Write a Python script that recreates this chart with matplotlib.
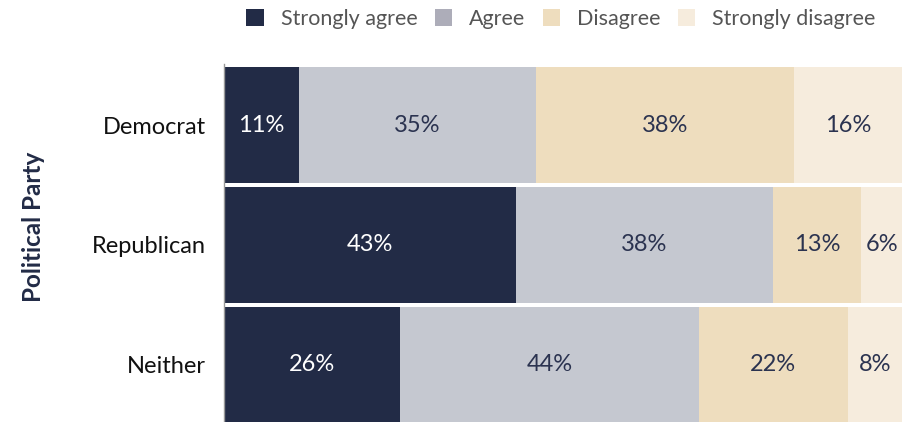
import matplotlib
matplotlib.use("Agg")
import matplotlib.pyplot as plt
from matplotlib.patches import Patch

categories = ["Democrat", "Republican", "Neither"]
series_names = ["Strongly agree", "Agree", "Disagree", "Strongly disagree"]
strongly_agree = [11, 43, 26]
agree = [35, 38, 44]
disagree = [38, 13, 22]
strongly_disagree = [16, 6, 8]
values = [strongly_agree, agree, disagree, strongly_disagree]

bar_colors = ["#222B46", "#C5C8D0", "#EEDDBE", "#F6ECDD"]
legend_colors = ["#222B46", "#ADADB9", "#EEDDBE", "#F6ECDD"]
text_colors = ["white", "#2B3350", "#2B3350", "#2B3350"]

plt.rcParams['font.family'] = ['Lato', 'DejaVu Sans']

fig = plt.figure(figsize=(9.17, 4.22), dpi=100)
ax = fig.add_axes([224/917, 0.0, (902-224)/917, 1 - 64/422])

ypos = [2, 1, 0]
left = [0, 0, 0]
for vals, bc, tc in zip(values, bar_colors, text_colors):
    ax.barh(ypos, vals, left=left, height=0.965, color=bc, edgecolor='none')
    for y, l, v in zip(ypos, left, vals):
        ax.text(l + v / 2, y, f"{v}%", ha='center', va='center', color=tc, fontsize=17)
    left = [l + v for l, v in zip(left, vals)]

ax.set_xlim(0, 100)
ax.set_ylim(-0.48, 2.51)
ax.set_yticks(ypos)
ax.set_yticklabels(categories, fontsize=17, color='#111111')
ax.tick_params(axis='y', length=0, pad=13)
ax.set_xticks([])
for s in ['top', 'right', 'bottom']:
    ax.spines[s].set_visible(False)
ax.spines['left'].set_color('#999999')
ax.spines['left'].set_linewidth(1.0)

ax.set_ylabel("Political Party", fontsize=17.5, fontweight='bold', color='#222B46')
ax.yaxis.set_label_coords((45 - 224) / 678, 0.545)

handles = [Patch(facecolor=c, edgecolor='none') for c in legend_colors]
fig.legend(handles, series_names, loc='center', bbox_to_anchor=(561/917, 1 - 19/422), ncol=4,
           frameon=False, fontsize=15.5, handlelength=0.8, handleheight=0.8, handletextpad=0.8,
           columnspacing=0.8, labelcolor='#555555')

fig.savefig("out.png", dpi=100)
